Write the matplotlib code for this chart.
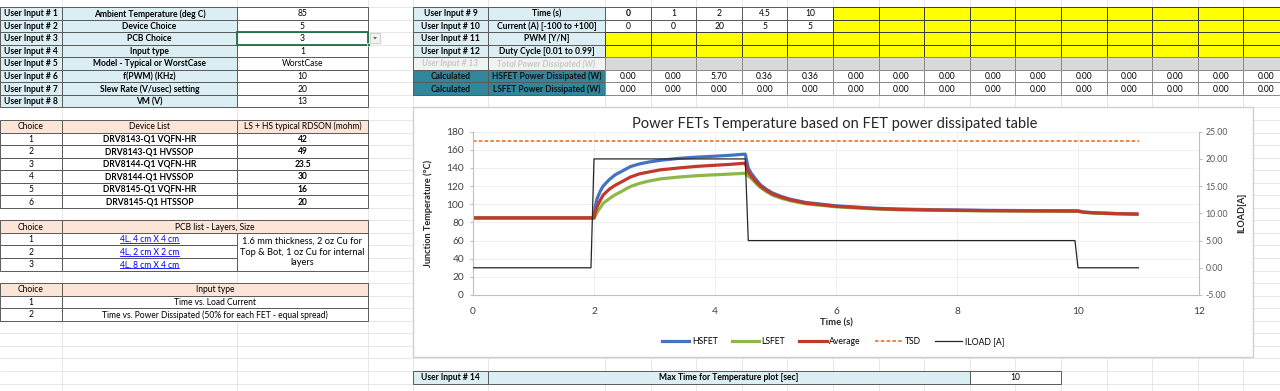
import matplotlib
matplotlib.use("Agg")
import matplotlib.pyplot as plt
from matplotlib.patches import Rectangle, Polygon
from matplotlib.lines import Line2D
from matplotlib.ticker import FormatStrFormatter

plt.rcParams['font.family'] = ['Lato', 'DejaVu Sans']

# --- sheet contents
input_labels = ["Ambient Temperature (deg C)", "Device Choice", "PCB Choice", "Input type",
                "Model - Typical or WorstCase", "f(PWM) (KHz)", "Slew Rate (V/usec) setting", "VM (V)"]
input_values = ["85", "5", "3", "1", "WorstCase", "10", "20", "13"]

devices = ["DRV8143-Q1 VQFN-HR", "DRV8143-Q1 HVSSOP", "DRV8144-Q1 VQFN-HR",
           "DRV8144-Q1 HVSSOP", "DRV8145-Q1 VQFN-HR", "DRV8145-Q1 HTSSOP"]
rdson = ["42", "49", "23.5", "30", "16", "20"]
pcbs = ["4L, 4 cm X 4 cm", "4L, 2 cm X 2 cm", "4L, 8 cm X 4 cm"]
pcb_note = "1.6 mm thickness, 2 oz Cu for\nTop & Bot, 1 oz Cu for internal\nlayers"
input_types = ["Time vs. Load Current", "Time vs. Power Dissipated (50% for each FET - equal spread)"]

table_labels = ["Time (s)", "Current (A) [-100 to +100]", "PWM [Y/N]", "Duty Cycle [0.01 to 0.99]",
                "Total Power Dissipated (W)", "HSFET Power Dissipated (W)", "LSFET Power Dissipated (W)"]
time_s = ["0", "1", "2", "4.5", "10"]
current_a = ["0", "0", "20", "5", "5"]
hs_power = [0.00, 0.00, 5.70, 0.36, 0.36, 0.00, 0.00, 0.00, 0.00, 0.00, 0.00, 0.00, 0.00, 0.00, 0.00]
ls_power = [0.00, 0.00, 0.00, 0.00, 0.00, 0.00, 0.00, 0.00, 0.00, 0.00, 0.00, 0.00, 0.00, 0.00, 0.00]
max_time = "10"

# --- chart data
t = [0, 1.95, 2.0, 2.02, 2.05, 2.1, 2.15, 2.25, 2.35, 2.45, 2.6, 2.75, 2.9, 3.1, 3.4, 3.7, 4.0, 4.25, 4.5,
     4.55, 4.6, 4.67, 4.75, 4.85, 4.95, 5.1, 5.25, 5.5, 6.0, 6.6, 7.0, 7.7, 8.5, 9.3, 10.0, 10.1, 10.3, 10.6, 11.0]
hsfet = [85, 85, 85, 97, 106, 114, 120, 127, 132.5, 136, 141.5, 144.5, 146.5, 148.5, 150.6, 152, 153, 154, 155.3,
         140, 134, 128, 121.5, 116.5, 112.5, 108.5, 105.5, 102, 98.3, 95.8, 94.8, 93.9, 93.3, 93, 92.8, 91.4, 90.6, 89.9, 89.3]
average = [85, 85, 85, 91, 97.5, 104, 110, 116.5, 121, 124.5, 130, 133.5, 135.5, 138, 140, 141.8, 143, 144, 145.3,
           135.5, 131, 125.5, 120, 115.3, 111.3, 107.7, 104.8, 101.3, 97.8, 95.4, 94.4, 93.6, 93, 92.7, 92.5, 91.2, 90.4, 89.7, 89.1]
lsfet = [85, 85, 85, 87, 91, 96, 101, 106, 110.5, 114, 119.5, 123, 125.5, 128, 130, 131.5, 132.5, 133.3, 134.2,
         131, 128.5, 123.5, 118.5, 114, 110, 106.5, 103.8, 100.5, 97.2, 95, 94, 93.3, 92.7, 92.4, 92.2, 91, 90.2, 89.5, 89]
tsd_t = [0, 11]
tsd = [170, 170]
load_t = [0, 1.95, 2.0, 4.5, 4.55, 9.95, 10.0, 11.0]
iload = [0, 0, 20, 20, 5, 5, 0, 0]

W, H = 1280, 391
fig = plt.figure(figsize=(W / 100, H / 100), dpi=100)
sh = fig.add_axes([0, 0, 1, 1])
sh.set_xlim(0, W)
sh.set_ylim(H, 0)
sh.axis('off')

FS = 6.15
BORDER = '#5a5a5a'
BLUE = '#DAEEF3'
PEACH = '#FCE4D6'


def r(k):
    return 7 + 12.55 * k


def cell(x0, x1, y0, y1, text='', fc='white', weight='normal', color='black', style='normal', fs=FS, ec=BORDER):
    sh.add_patch(Rectangle((x0, y0), x1 - x0, y1 - y0, fc=fc, ec=ec, lw=0.7, zorder=2))
    if text:
        return sh.text((x0 + x1) / 2, (y0 + y1) / 2 + 0.5, text, ha='center', va='center', fontsize=fs,
                       fontweight=weight, color=color, fontstyle=style, zorder=3, linespacing=1.25)


# sheet gridlines
cols = [62, 237, 368, 413, 488, 605] + [605 + 45.6 * i for i in range(1, 15)]
for k in range(-1, 32):
    sh.plot([0, W], [r(k), r(k)], color='#e3e3e3', lw=0.6, zorder=1)
for c in cols:
    sh.plot([c, c], [0, H], color='#e3e3e3', lw=0.6, zorder=1)

# user inputs 1-8
for i in range(8):
    cell(0, 62, r(i), r(i + 1), "User Input # %d" % (i + 1), fc=BLUE, weight='bold')
    cell(62, 237, r(i), r(i + 1), input_labels[i], fc=BLUE, weight='bold')
    cell(237, 368, r(i), r(i + 1), input_values[i])
# selected cell + dropdown
sh.add_patch(Rectangle((237, r(2)), 131, r(3) - r(2), fc='none', ec='#217346', lw=1.3, zorder=4))
sh.add_patch(Rectangle((366.5, r(3) - 1.5), 3, 3, fc='#217346', ec='white', lw=0.5, zorder=5))
sh.add_patch(Rectangle((370, 33), 10, 10, fc='#f3f3f3', ec='#c6c6c6', lw=0.6, zorder=4))
sh.add_patch(Polygon([(373, 37), (377, 37), (375, 39.5)], closed=True, fc='#6a6a6a', ec='none', zorder=5))

# device list
cell(0, 62, r(9), r(10), "Choice", fc=PEACH)
cell(62, 237, r(9), r(10), "Device List", fc=PEACH)
cell(237, 368, r(9), r(10), "LS + HS typical RDSON (mohm)", fc=PEACH)
for i, (d, rv) in enumerate(zip(devices, rdson)):
    cell(0, 62, r(10 + i), r(11 + i), str(i + 1))
    cell(62, 237, r(10 + i), r(11 + i), d, weight='bold')
    cell(237, 368, r(10 + i), r(11 + i), rv, weight='bold')

# pcb list
cell(0, 62, r(17), r(18), "Choice", fc=PEACH)
cell(62, 368, r(17), r(18), "PCB list - Layers, Size", fc=PEACH)
renderer = fig.canvas.get_renderer()
for i, p in enumerate(pcbs):
    cell(0, 62, r(18 + i), r(19 + i), str(i + 1))
    tx = cell(62, 237, r(18 + i), r(19 + i), p, color='#0000FF')
    bb = tx.get_window_extent(renderer)
    sh.plot([bb.x0, bb.x1], [r(19 + i) - 2.3, r(19 + i) - 2.3], color='#0000FF', lw=0.6, zorder=3)
cell(237, 368, r(18), r(21), pcb_note, fs=FS + 0.5)

# input type
cell(0, 62, r(22), r(23), "Choice", fc=PEACH)
cell(62, 368, r(22), r(23), "Input type", fc=PEACH)
for i, it in enumerate(input_types):
    cell(0, 62, r(23 + i), r(24 + i), str(i + 1))
    cell(62, 368, r(23 + i), r(24 + i), it)

# top table
vc = [605 + 45.6 * i for i in range(16)]
a_labels = ["User Input # 9", "User Input # 10", "User Input # 11", "User Input # 12",
            "User Input # 13", "Calculated", "Calculated"]
for k in range(7):
    if k == 4:
        cell(413, 488, r(k), r(k + 1), a_labels[k], fc='#f2f2f2', weight='bold', style='italic', color='#c8c8c8')
        cell(488, 605, r(k), r(k + 1), table_labels[k], fc='#f2f2f2', weight='bold', style='italic', color='#c8c8c8')
    elif k >= 5:
        cell(413, 488, r(k), r(k + 1), a_labels[k], fc='#31869B', weight='bold', color='#111111')
        cell(488, 605, r(k), r(k + 1), table_labels[k], fc='#31869B', weight='bold', color='#111111')
    else:
        cell(413, 488, r(k), r(k + 1), a_labels[k], fc=BLUE, weight='bold')
        cell(488, 605, r(k), r(k + 1), table_labels[k], fc=BLUE, weight='bold')
    for j in range(15):
        x0, x1 = vc[j], vc[j + 1]
        if k == 0:
            if j < 5:
                cell(x0, x1, r(k), r(k + 1), time_s[j], weight='bold' if j == 0 else 'normal')
            else:
                cell(x0, x1, r(k), r(k + 1), fc='#FFFF00', ec='#3a3a3a')
        elif k == 1:
            if j < 5:
                cell(x0, x1, r(k), r(k + 1), current_a[j])
            else:
                cell(x0, x1, r(k), r(k + 1), fc='#FFFF00', ec='#3a3a3a')
        elif k in (2, 3):
            cell(x0, x1, r(k), r(k + 1), fc='#FFFF00', ec='#3a3a3a')
        elif k == 4:
            cell(x0, x1, r(k), r(k + 1), fc='#d9d9d9', ec='#8a8a8a')
        elif k == 5:
            cell(x0, x1, r(k), r(k + 1), "%.2f" % hs_power[j], ec='#8a8a8a')
        else:
            cell(x0, x1, r(k), r(k + 1), "%.2f" % ls_power[j], ec='#8a8a8a')

# user input 14
cell(413, 488, r(29), r(30), "User Input # 14", fc=BLUE, weight='bold')
cell(488, 969.8, r(29), r(30), "Max Time for Temperature plot [sec]", fc=BLUE, weight='bold')
cell(969.8, 1061, r(29), r(30), max_time)

# chart frame
sh.add_patch(Rectangle((413, 107.3), 840, 249.4, fc='white', ec='#d0d0d0', lw=1.0, zorder=6))

# --- chart
L, R, B, T = 473, 1199, 295, 131.7
ax = fig.add_axes([L / W, 1 - B / H, (R - L) / W, (B - T) / H])
ax.set_zorder(10)
ax.patch.set_alpha(0)
ax.plot(t, hsfet, color='#4472C4', lw=2.3, solid_capstyle='butt', label='HSFET')
ax.plot(t, lsfet, color='#8DB848', lw=2.3, solid_capstyle='butt', label='LSFET')
ax.plot(t, average, color='#C0392B', lw=2.3, solid_capstyle='butt', label='Average')
ax.plot(tsd_t, tsd, color='#ED7D31', lw=1.3, ls=(0, (2, 1.2)), label='TSD')
ax.set_xlim(0, 12)
ax.set_ylim(0, 180)
ax.set_xticks(range(0, 13, 2))
ax.set_yticks(range(0, 181, 20))
ax.grid(True, color='#efefef', lw=0.7)
ax.set_axisbelow(True)
for s in ['top', 'right']:
    ax.spines[s].set_visible(False)
for s in ['left', 'bottom']:
    ax.spines[s].set_color('#bfbfbf')
ax.tick_params(axis='y', length=2.5, color='#bfbfbf', labelsize=7.3, labelcolor='#404040', pad=4)
ax.tick_params(axis='x', length=0, labelsize=7.3, labelcolor='#404040', pad=9)
ax.set_ylabel("Junction Temperature (°C)", fontsize=6.6, fontweight='bold', color='#262626')
ax.yaxis.set_label_coords((433 - L) / (R - L), 0.5)
ax.set_xlabel("Time (s)", fontsize=6.8, fontweight='bold', color='#262626')
ax.xaxis.label.set_va('center')
ax.xaxis.set_label_coords(0.5, (B - 323) / (B - T))

ax2 = ax.twinx()
ax2.plot(load_t, iload, color='#262626', lw=0.9, label='ILOAD [A]')
ax2.set_ylim(-5, 25)
ax2.set_yticks(range(-5, 26, 5))
ax2.yaxis.set_major_formatter(FormatStrFormatter('%.2f'))
for s in ['top', 'left', 'bottom']:
    ax2.spines[s].set_visible(False)
ax2.spines['right'].set_color('#bfbfbf')
ax2.tick_params(axis='y', length=2.5, color='#bfbfbf', labelsize=6.3, labelcolor='#595959', pad=2)
ax2.set_ylabel("ILOAD[A]", fontsize=6.6, fontweight='bold', color='#262626')
ax2.yaxis.set_label_coords((1237 - L) / (R - L), 0.5)

fig.text(835 / W, 1 - 124 / H, "Power FETs Temperature based on FET power dissipated table",
         ha='center', va='center', fontsize=10.5, color='#262626', zorder=12)

handles = [Line2D([], [], color='#4472C4', lw=2.3), Line2D([], [], color='#8DB848', lw=2.3),
           Line2D([], [], color='#C0392B', lw=2.3), Line2D([], [], color='#ED7D31', lw=1.3, ls=(0, (2, 1.2))),
           Line2D([], [], color='#262626', lw=0.9)]
leg = fig.legend(handles, ['HSFET', 'LSFET', 'Average', 'TSD', 'ILOAD [A]'], loc='center',
                 bbox_to_anchor=(833 / W, 1 - 342 / H), ncol=5, frameon=False, fontsize=6.2,
                 handlelength=3.2, handletextpad=0.3, columnspacing=1.6)
leg.set_zorder(12)

fig.savefig("out.png", dpi=100)
